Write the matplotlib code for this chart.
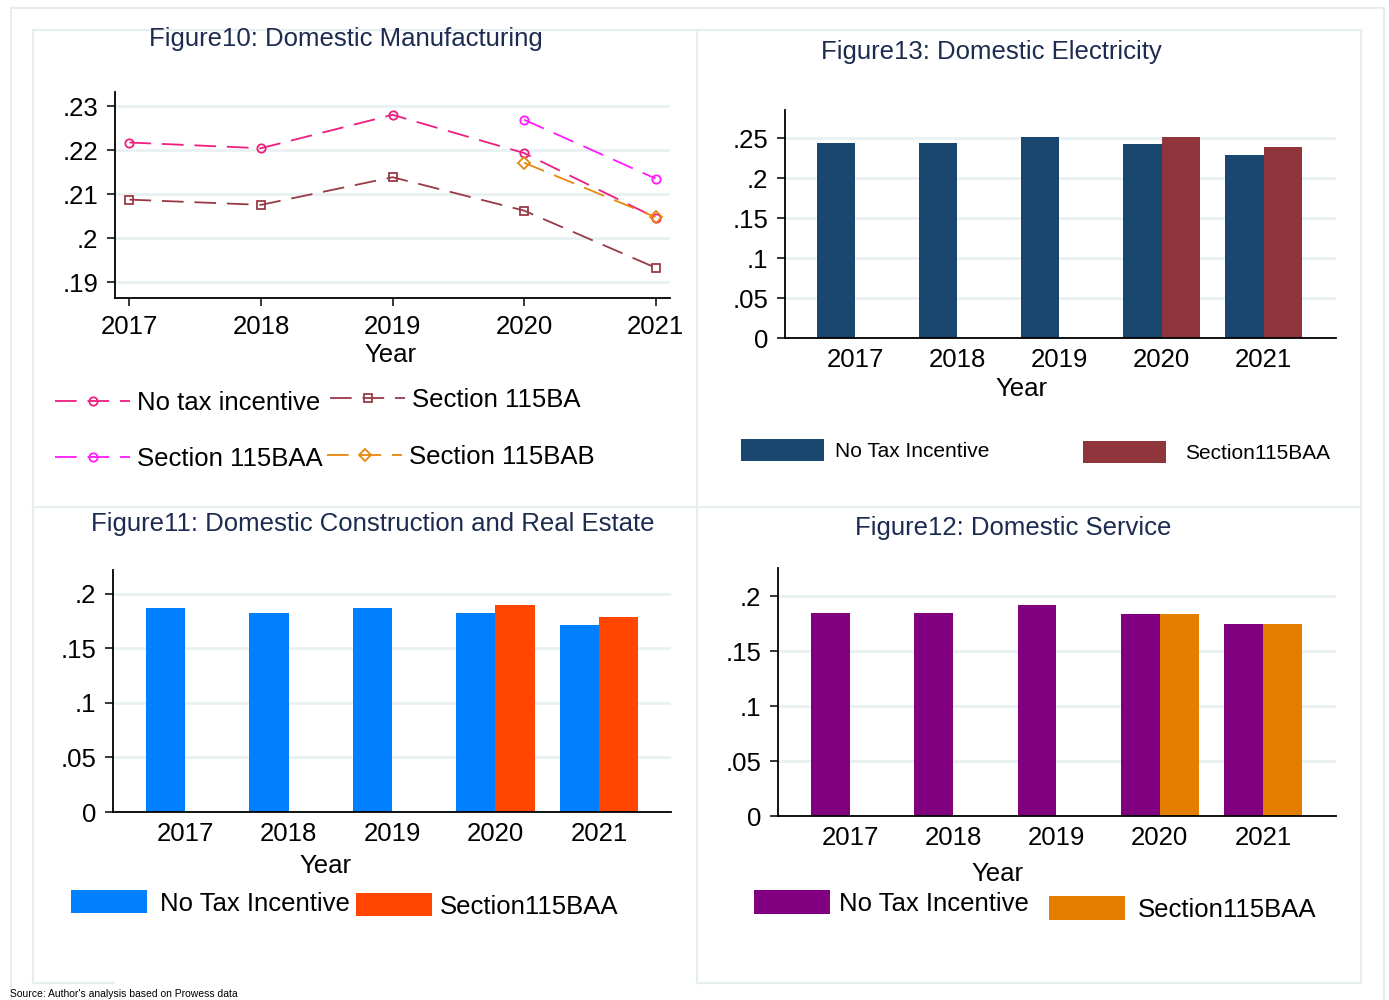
import matplotlib
matplotlib.use('Agg')
import matplotlib.pyplot as plt
from matplotlib.lines import Line2D

plt.rcParams['font.family'] = ['Liberation Sans', 'DejaVu Sans']

# values
years = [2017, 2018, 2019, 2020, 2021]
new_regime_years = [2020, 2021]

# Figure10: Domestic Manufacturing (line chart)
mfg_no_tax = [0.2218, 0.2205, 0.2281, 0.2194, 0.2047]
mfg_115ba = [0.2088, 0.2076, 0.2139, 0.2063, 0.1933]
mfg_115baa = [0.2270, 0.2136]
mfg_115bab = [0.2172, 0.2048]

# Figure13: Domestic Electricity
elec_no_tax = [0.2441, 0.2441, 0.2516, 0.2429, 0.2292]
elec_115baa = [0.2516, 0.2391]

# Figure11: Domestic Construction and Real Estate
constr_no_tax = [0.1874, 0.1829, 0.1874, 0.1829, 0.1719]
constr_115baa = [0.1896, 0.1790]

# Figure12: Domestic Service
serv_no_tax = [0.1846, 0.1846, 0.1916, 0.1840, 0.1743]
serv_115baa = [0.1840, 0.1743]

W, H = 1389, 1000
fig = plt.figure(figsize=(W / 100, H / 100), dpi=100)
fig.patch.set_facecolor('white')

TITLE_COL = '#1C2B50'
GRID_COL = '#E8F1F3'
FRAME_COL = '#E6EEF0'
FS = 18.5


def px_axes(x0, y0, x1, y1):
    # pixel box (top-left origin) -> figure axes
    return fig.add_axes([x0 / W, 1 - y1 / H, (x1 - x0) / W, (y1 - y0) / H])


def fline(x0, y0, x1, y1):
    fig.add_artist(Line2D([x0 / W, x1 / W], [1 - y0 / H, 1 - y1 / H],
                          transform=fig.transFigure, color=FRAME_COL, lw=1.6, zorder=0))


def style_axes(ax, yticks, ylabels, xtick_len, xpad):
    ax.set_facecolor('none')
    for s in ['top', 'right']:
        ax.spines[s].set_visible(False)
    for s in ['left', 'bottom']:
        ax.spines[s].set_linewidth(1.3)
        ax.spines[s].set_color('black')
    ax.set_yticks(yticks)
    ax.set_yticklabels(ylabels)
    ax.set_xticks(years)
    ax.set_xticklabels([str(y) for y in years])
    ax.tick_params(axis='y', length=6, width=1.1, pad=6, labelsize=FS)
    ax.tick_params(axis='x', length=xtick_len, width=1.1, pad=xpad, labelsize=FS)
    ax.yaxis.grid(True, color=GRID_COL, lw=2)
    ax.set_axisbelow(True)


def year_label(ax, x_frac, y_px):
    # stata puts the axis title off-centre, so place it by hand
    ax.set_xlabel('Year', fontsize=FS)
    pos = ax.get_position()
    ax.xaxis.set_label_coords(x_frac, ((1 - y_px / H) - pos.y0) / pos.height)
    ax.xaxis.label.set_va('center')


def add_key(handle, label, x, y, fs, hl, hh, pad):
    fig.legend([handle], [label], loc='center left',
               bbox_to_anchor=(x / W, 1 - y / H), frameon=False, fontsize=fs,
               handlelength=hl, handleheight=hh, handletextpad=pad,
               borderpad=0, borderaxespad=0, numpoints=1)


# light frames like the stata graph combine output
fline(11, 8, 11, 1000)
fline(11, 8, 1384, 8)
fline(1384, 8, 1384, 1000)
fline(33, 30, 1361, 30)
fline(33, 507, 1361, 507)
fline(33, 30, 33, 983)
fline(697, 30, 697, 983)
fline(1361, 30, 1361, 983)
fline(33, 983, 114, 983)
fline(697, 983, 1361, 983)

# ---- Figure10: manufacturing lines ----
ax1 = px_axes(115, 92, 670, 298)
dash = (12, 6)
l_no, = ax1.plot(years, mfg_no_tax, color='#EC1E7E', lw=1.3, dashes=dash,
                 marker='o', ms=6, mfc='none', mec='#EC1E7E', mew=1.3)
l_ba, = ax1.plot(years, mfg_115ba, color='#983A45', lw=1.3, dashes=dash,
                 marker='s', ms=6, mfc='none', mec='#983A45', mew=1.3)
l_baa, = ax1.plot(new_regime_years, mfg_115baa, color='#FF1AFF', lw=1.3, dashes=dash,
                  marker='o', ms=6, mfc='none', mec='#FF1AFF', mew=1.3)
l_bab, = ax1.plot(new_regime_years, mfg_115bab, color='#E8870E', lw=1.3, dashes=dash,
                  marker='D', ms=6, mfc='none', mec='#E8870E', mew=1.3)
style_axes(ax1, [0.19, 0.20, 0.21, 0.22, 0.23], ['.19', '.2', '.21', '.22', '.23'], 6, 6)
ax1.set_xlim(2016.89, 2021.11)
ax1.set_ylim(0.1864, 0.2333)
year_label(ax1, 0.497, 355)
fig.text(346 / W, 1 - 39 / H, 'Figure10: Domestic Manufacturing', ha='center', va='center',
         fontsize=FS, color=TITLE_COL)
add_key(l_no, 'No tax incentive', 55, 403, FS, 2.92, 0.7, 0.27)
add_key(l_ba, 'Section 115BA', 330, 400, FS, 2.92, 0.7, 0.27)
add_key(l_baa, 'Section 115BAA', 55, 459, FS, 2.92, 0.7, 0.27)
add_key(l_bab, 'Section 115BAB', 327, 457, FS, 2.92, 0.7, 0.27)

w = 0.377  # bar width in years

# ---- Figure13: electricity bars ----
ax2 = px_axes(785, 110, 1336, 338)
b_no = ax2.bar(years, elec_no_tax, width=-w, align='edge', color='#1A476F')
b_baa = ax2.bar(new_regime_years, elec_115baa, width=w, align='edge', color='#90353B')
style_axes(ax2, [0, 0.05, 0.1, 0.15, 0.2, 0.25], ['0', '.05', '.1', '.15', '.2', '.25'], 0, 7)
ax2.set_xlim(2016.314, 2021.706)
ax2.set_ylim(0, 0.285)
year_label(ax2, 0.430, 389)
fig.text(991 / W, 1 - 52 / H, 'Figure13: Domestic Electricity', ha='center', va='center',
         fontsize=FS, color=TITLE_COL)
add_key(b_no, 'No Tax Incentive', 741, 450, 15, 4.0, 1.2, 0.53)
add_key(b_baa, 'Section115BAA', 1083, 452, 15, 4.0, 1.2, 0.9)

# ---- Figure11: construction bars ----
ax3 = px_axes(113, 570, 671, 812)
c_no = ax3.bar(years, constr_no_tax, width=-w, align='edge', color='#0080FF')
c_baa = ax3.bar(new_regime_years, constr_115baa, width=w, align='edge', color='#FF4500')
style_axes(ax3, [0, 0.05, 0.1, 0.15, 0.2], ['0', '.05', '.1', '.15', '.2'], 0, 7)
ax3.set_xlim(2016.304, 2021.696)
ax3.set_ylim(0, 0.222)
year_label(ax3, 0.380, 866)
fig.text(373 / W, 1 - 524 / H, 'Figure11: Domestic Construction and Real Estate', ha='center',
         va='center', fontsize=FS, color=TITLE_COL)
add_key(c_no, 'No Tax Incentive', 71, 903, FS, 2.96, 1.0, 0.5)
add_key(c_baa, 'Section115BAA', 356, 906, FS, 2.96, 1.0, 0.31)

# ---- Figure12: service bars ----
ax4 = px_axes(778, 568, 1336, 816)
s_no = ax4.bar(years, serv_no_tax, width=-w, align='edge', color='#800080')
s_baa = ax4.bar(new_regime_years, serv_115baa, width=w, align='edge', color='#E37E00')
style_axes(ax4, [0, 0.05, 0.1, 0.15, 0.2], ['0', '.05', '.1', '.15', '.2'], 0, 7)
ax4.set_xlim(2016.303, 2021.707)
ax4.set_ylim(0, 0.2255)
year_label(ax4, 0.394, 874)
fig.text(1013 / W, 1 - 528 / H, 'Figure12: Domestic Service', ha='center', va='center',
         fontsize=FS, color=TITLE_COL)
add_key(s_no, 'No Tax Incentive', 754, 903, FS, 2.96, 1.05, 0.35)
add_key(s_baa, 'Section115BAA', 1049, 909, FS, 2.96, 1.05, 0.5)

# source note along the bottom edge
fig.text(10 / W, 1 - 999 / H, "Source: Author's analysis based on Prowess data",
         ha='left', va='bottom', fontsize=7.5, color='black')

fig.savefig('out.png', dpi=100)
